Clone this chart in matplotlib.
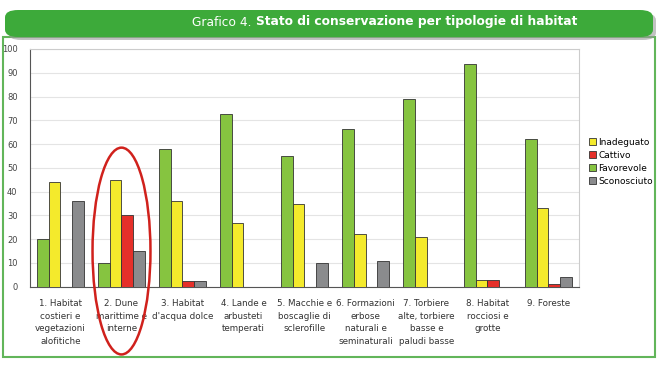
import matplotlib.pyplot as plt
import numpy as np
from matplotlib.patches import FancyBboxPatch, Rectangle, Ellipse

plt.rcParams['font.family'] = ['DejaVu Sans']

categories = ["1. Habitat\ncostieri e\nvegetazioni\nalofitiche",
              "2. Dune\nmarittime e\ninterne",
              "3. Habitat\nd'acqua dolce",
              "4. Lande e\narbusteti\ntemperati",
              "5. Macchie e\nboscaglie di\nsclerofille",
              "6. Formazioni\nerbose\nnaturali e\nseminaturali",
              "7. Torbiere\nalte, torbiere\nbasse e\npaludi basse",
              "8. Habitat\nrocciosi e\ngrotte",
              "9. Foreste"]
favorevole = [20, 10, 58, 72.5, 55, 66.5, 79, 93.5, 62]
inadeguato = [44, 45, 36, 27, 35, 22, 21, 3, 33]
cattivo = [0, 30, 2.5, 0, 0, 0, 0, 3, 1.3]
sconosciuto = [36, 15, 2.5, 0, 10, 11, 0, 0, 4]

c_green = '#86c440'
c_yellow = '#f4ea2c'
c_red = '#e5302a'
c_gray = '#8a8b8d'

W, H = 659, 365
fig = plt.figure(figsize=(W / 100, H / 100), dpi=100)

# cornice verde esterna
fig.patches.append(Rectangle((3 / W, 1 - 357 / H), 652 / W, 320 / H,
                             transform=fig.transFigure, fill=False,
                             edgecolor='#62b55a', linewidth=1.5))
# banda del titolo con ombra
fig.patches.append(FancyBboxPatch((8 / W, 1 - 40 / H), 648 / W, 27 / H,
                                  boxstyle="round,pad=0,rounding_size=0.02",
                                  transform=fig.transFigure, facecolor='#9a9a9a',
                                  edgecolor='none', alpha=0.6))
fig.patches.append(FancyBboxPatch((5 / W, 1 - 37 / H), 648 / W, 27 / H,
                                  boxstyle="round,pad=0,rounding_size=0.02",
                                  transform=fig.transFigure, facecolor='#3daa3a',
                                  edgecolor='none'))
fig.text(252 / W, 1 - 22 / H, "Grafico 4.", color='white', fontsize=8.8,
         ha='right', va='center')
fig.text(256 / W, 1 - 22 / H, "Stato di conservazione per tipologie di habitat",
         color='white', fontsize=8.8, fontweight='bold', ha='left', va='center')

ax = fig.add_axes([30 / W, 1 - 286.7 / H, 549 / W, 237.7 / H])
x = np.arange(len(categories))
bw = 0.19
series = [(favorevole, c_green, 'Favorevole'), (inadeguato, c_yellow, 'Inadeguato'),
          (cattivo, c_red, 'Cattivo'), (sconosciuto, c_gray, 'Sconosciuto')]
bars = {}
for k, (vals, col, lab) in enumerate(series):
    v = np.array(vals, dtype=float)
    b = ax.bar(x + (k - 1.5) * bw, np.where(v > 0, v, np.nan), bw, color=col,
               edgecolor='#333333', linewidth=0.6, label=lab, zorder=3)
    bars[lab] = b

ax.set_xlim(-0.5, len(categories) - 0.5)
ax.set_ylim(0, 100)
ax.set_yticks(range(0, 101, 10))
ax.yaxis.grid(True, color='#e4e4e4', linewidth=0.8, zorder=0)
ax.tick_params(axis='y', length=0, pad=9, labelsize=6, labelcolor='#444444')
ax.set_xticks(x)
ax.set_xticklabels(categories, fontsize=6.3, linespacing=1.5, color='#333333', va='top')
ax.tick_params(axis='x', length=0, pad=9)
for s in ['top', 'right']:
    ax.spines[s].set_color('#cccccc')
for s in ['left', 'bottom']:
    ax.spines[s].set_color('#555555')

# ellisse rossa sul gruppo 2
ax.add_patch(Ellipse((1, 15), 0.95, 87, fill=False, edgecolor='#d0211c',
                     linewidth=1.8, clip_on=False, zorder=5))

order = ['Inadeguato', 'Cattivo', 'Favorevole', 'Sconosciuto']
fig.legend([bars[o] for o in order], order, loc='upper left',
           bbox_to_anchor=(585 / W, 1 - 134 / H), frameon=False, fontsize=6.5,
           handlelength=0.8, handleheight=0.8, handletextpad=0.3, labelspacing=0.45,
           borderaxespad=0)

plt.savefig('out.png', dpi=100)
